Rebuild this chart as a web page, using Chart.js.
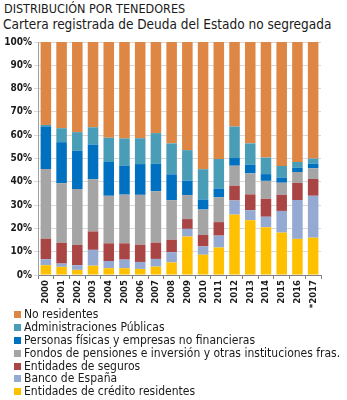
<!DOCTYPE html>
<html>
<head>
<meta charset="utf-8">
<script src="https://cdn.jsdelivr.net/npm/chart.js@4"></script>
<style>
  body { margin: 0; background: #fff; font-family: "DejaVu Sans Condensed", "DejaVu Sans", sans-serif; color: #1a1a1a; }
  #wrap { position: relative; width: 347px; height: 400px; overflow: hidden; }
  #title { position: absolute; left: 4px; top: 1px; font-size: 12.5px; line-height: 15px; }
  #subtitle { position: absolute; left: 3px; top: 16px; font-size: 13.5px; line-height: 17px; }
  #box { position: absolute; left: 0; top: 0; width: 347px; height: 310px; }
  #legend { position: absolute; left: 14px; top: 308px; font-size: 12px; list-style: none; margin: 0; padding: 0; }
  #legend li { height: 12.9px; line-height: 12.9px; white-space: nowrap; }
  #legend span { display: inline-block; width: 7px; height: 7px; margin-right: 3px; }
</style>
</head>
<body>
<div id="wrap">
  <div id="title">DISTRIBUCIÓN POR TENEDORES</div>
  <div id="subtitle">Cartera registrada de Deuda del Estado no segregada</div>
  <div id="box"><canvas id="chart"></canvas></div>
  <ul id="legend"></ul>
</div>
<script>
const years = ["2000", "2001", "2002", "2003", "2004", "2005", "2006", "2007", "2008",
  "2009", "2010", "2011", "2012", "2013", "2014", "2015", "2016", "*2017"];

// % of the portfolio, bottom to top
const credito   = [4.2, 3.5, 2.2, 4.0, 2.9, 2.9, 2.6, 3.6, 5.4, 16.5, 8.7, 11.8, 25.9, 23.5, 20.5, 18.2, 15.5, 16.0];
const bancoEsp  = [2.6, 1.4, 2.0, 6.8, 3.1, 3.7, 3.0, 3.3, 4.4, 3.3, 3.6, 5.1, 6.1, 4.3, 4.5, 9.3, 16.7, 18.0];
const seguros   = [8.8, 8.9, 8.7, 7.9, 7.6, 7.0, 7.4, 7.0, 5.3, 4.2, 4.9, 5.8, 6.3, 6.8, 7.7, 6.9, 7.3, 7.2];
const fondos    = [29.9, 25.6, 24.0, 22.4, 20.4, 20.9, 21.4, 22.1, 17.0, 10.3, 10.9, 10.7, 8.6, 9.0, 7.7, 5.2, 4.7, 4.6];
const personas  = [18.3, 17.6, 16.4, 14.9, 14.5, 12.5, 13.2, 11.7, 11.1, 6.2, 4.3, 3.7, 3.3, 3.7, 2.9, 2.2, 1.8, 2.0];
const aapp      = [0.6, 6.0, 8.0, 7.4, 10.4, 11.6, 11.1, 13.2, 13.3, 13.1, 13.0, 12.7, 13.5, 9.2, 7.1, 5.0, 2.5, 2.2];
const noResid   = [35.6, 37.0, 38.7, 36.6, 41.1, 41.4, 41.3, 39.1, 43.5, 46.4, 54.6, 50.2, 36.3, 43.5, 49.6, 53.2, 51.5, 50.0];

const yTicks = [0, 10, 20, 30, 40, 50, 60, 70, 80, 90, 100];

const series = [
  { label: "Entidades de crédito residentes", data: credito, color: "#ffc000" },
  { label: "Banco de España", data: bancoEsp, color: "#94aad3" },
  { label: "Entidades de seguros", data: seguros, color: "#aa4545" },
  { label: "Fondos de pensiones e inversión y otras instituciones fras.", data: fondos, color: "#a5a5a5" },
  { label: "Personas físicas y empresas no financieras", data: personas, color: "#0070c0" },
  { label: "Administraciones Públicas", data: aapp, color: "#4a9db6" },
  { label: "No residentes", data: noResid, color: "#de8644" }
];

const chart = new Chart(document.getElementById("chart"), {
  type: "bar",
  data: {
    labels: years,
    datasets: series.map(s => ({
      label: s.label,
      data: s.data,
      backgroundColor: s.color,
      borderWidth: 0,
      categoryPercentage: 0.67,
      barPercentage: 1
    }))
  },
  options: {
    responsive: true,
    maintainAspectRatio: false,
    animation: false,
    layout: { padding: { top: 42, right: 26, left: 0, bottom: 0 } },
    plugins: {
      legend: { display: false },
      tooltip: { enabled: false }
    },
    scales: {
      x: {
        stacked: true,
        offset: true,
        grid: { display: true, drawOnChartArea: false, tickLength: 4, color: "#808080", offset: true },
        border: { color: "#808080" },
        ticks: {
          minRotation: 90, maxRotation: 90, padding: 1,
          color: "#1a1a1a",
          font: { family: "DejaVu Sans Condensed", size: 9.5, weight: "bold" }
        },
        afterFit: scale => { scale.height = 35; }
      },
      y: {
        stacked: true,
        min: 0, max: 100,
        afterBuildTicks: scale => { scale.ticks = yTicks.map(v => ({ value: v })); },
        grid: { color: "#d9d9d9", tickLength: 4, drawTicks: true },
        border: { color: "#a0a0a0" },
        ticks: {
          padding: 2,
          color: "#1a1a1a",
          font: { family: "DejaVu Sans Condensed", size: 10, weight: "bold" },
          callback: v => v + "%"
        },
        afterFit: scale => { scale.width = 38; }
      }
    }
  }
});

// legend, top item is the top of the stack
const legend = document.getElementById("legend");
series.slice().reverse().forEach(s => {
  const li = document.createElement("li");
  const sw = document.createElement("span");
  sw.style.background = s.color;
  li.appendChild(sw);
  li.appendChild(document.createTextNode(s.label));
  legend.appendChild(li);
});
</script>
</body>
</html>
